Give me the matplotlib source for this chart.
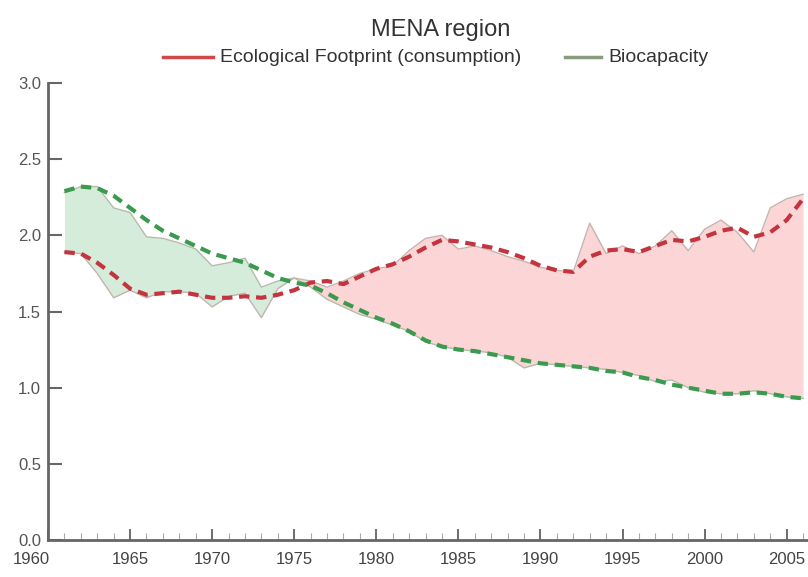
import matplotlib.pyplot as plt
import matplotlib.transforms as mtransforms
import numpy as np

plt.rcParams['font.family'] = ['Liberation Sans', 'DejaVu Sans']

years = np.arange(1961, 2007)

# footprint (consumption), gha per person
footprint = [1.89, 1.88, 1.75, 1.59, 1.64, 1.59, 1.63, 1.63, 1.62, 1.53,
             1.60, 1.62, 1.46, 1.65, 1.72, 1.70, 1.66, 1.70, 1.75, 1.78,
             1.80, 1.90, 1.98, 2.00, 1.91, 1.93, 1.90, 1.86, 1.83, 1.79,
             1.77, 1.76, 2.08, 1.88, 1.93, 1.88, 1.93, 2.03, 1.90, 2.04,
             2.10, 2.02, 1.89, 2.18, 2.24, 2.27]
footprint_trend = [1.89, 1.88, 1.82, 1.74, 1.65, 1.61, 1.62, 1.63, 1.61, 1.59,
                   1.59, 1.60, 1.59, 1.61, 1.64, 1.69, 1.70, 1.68, 1.73, 1.78,
                   1.81, 1.86, 1.92, 1.97, 1.96, 1.94, 1.92, 1.89, 1.85, 1.80,
                   1.77, 1.76, 1.86, 1.90, 1.91, 1.89, 1.93, 1.97, 1.96, 1.99,
                   2.03, 2.05, 1.99, 2.02, 2.10, 2.24]

# biocapacity
biocap = [2.28, 2.32, 2.32, 2.18, 2.15, 1.99, 1.98, 1.95, 1.91, 1.80,
          1.82, 1.85, 1.66, 1.70, 1.72, 1.66, 1.58, 1.53, 1.48, 1.45,
          1.41, 1.37, 1.30, 1.27, 1.25, 1.24, 1.23, 1.20, 1.13, 1.16,
          1.15, 1.14, 1.13, 1.12, 1.10, 1.08, 1.04, 1.05, 1.00, 0.97,
          0.96, 0.96, 0.98, 0.96, 0.94, 0.93]
biocap_trend = [2.29, 2.32, 2.31, 2.26, 2.18, 2.10, 2.03, 1.98, 1.93, 1.88,
                1.85, 1.82, 1.77, 1.72, 1.69, 1.67, 1.62, 1.56, 1.51, 1.46,
                1.42, 1.37, 1.31, 1.27, 1.25, 1.24, 1.22, 1.20, 1.18, 1.16,
                1.15, 1.14, 1.13, 1.11, 1.10, 1.07, 1.05, 1.02, 1.00, 0.98,
                0.96, 0.96, 0.97, 0.96, 0.94, 0.93]

fp = np.array(footprint)
bc = np.array(biocap)

fig = plt.figure(figsize=(8.08, 5.77), dpi=100)
ax = fig.add_axes([48/808, 37/577, 760/808, 457/577])

ax.fill_between(years, fp, bc, where=bc >= fp, interpolate=True,
                color='#d6ecda', lw=0)
ax.fill_between(years, fp, bc, where=fp > bc, interpolate=True,
                color='#fcd6d6', lw=0)
ax.plot(years, fp, color='#c4b4b0', lw=1)
ax.plot(years, bc, color='#b4bcaa', lw=1)
ax.plot(years, footprint_trend, color='#c4343e', lw=3, dashes=(2.5, 1.6))
ax.plot(years, biocap_trend, color='#3a9a4e', lw=3, dashes=(2.5, 1.6))

ax.set_xlim(1960, 2006.3)
ax.set_ylim(0, 3.0)

for s in ['top', 'right']:
    ax.spines[s].set_visible(False)
for s in ['left', 'bottom']:
    ax.spines[s].set_color('#666666')
    ax.spines[s].set_linewidth(2)

ax.set_yticks(np.arange(0, 3.01, 0.5))
ax.set_yticklabels(['%.1f' % v for v in np.arange(0, 3.01, 0.5)])
ax.set_xticks(np.arange(1960, 2006, 5))
ax.set_xticks(np.arange(1960, 2007, 1), minor=True)
ax.tick_params(axis='y', direction='in', length=10, width=1.5, color='#666666',
               labelsize=12, labelcolor='#555555', pad=5)
ax.tick_params(axis='x', which='major', direction='in', length=8, width=1.2,
               color='#555555', labelsize=12, labelcolor='#444444', pad=9)
ax.tick_params(axis='x', which='minor', direction='in', length=5, width=0.8,
               color='#aaaaaa')

# first year label sits left of the axis corner
lbl = ax.get_xticklabels()[0]
lbl.set_transform(lbl.get_transform() +
                  mtransforms.ScaledTranslation(-17/100, 0, fig.dpi_scale_trans))

fig.text(0.545, 0.948, 'MENA region', ha='center', va='center',
         fontsize=17, color='#333333')

# legend drawn by hand in figure coords
fig.add_artist(plt.Line2D([163/808, 213/808], [0.901, 0.901], color='#d04848', lw=2.5))
fig.text(220/808, 0.901, 'Ecological Footprint (consumption)', va='center',
         fontsize=14, color='#333333')
fig.add_artist(plt.Line2D([565/808, 601/808], [0.901, 0.901], color='#8a9a7c', lw=2.5))
fig.text(608/808, 0.901, 'Biocapacity', va='center', fontsize=14, color='#333333')

fig.savefig('out.png', dpi=100)
